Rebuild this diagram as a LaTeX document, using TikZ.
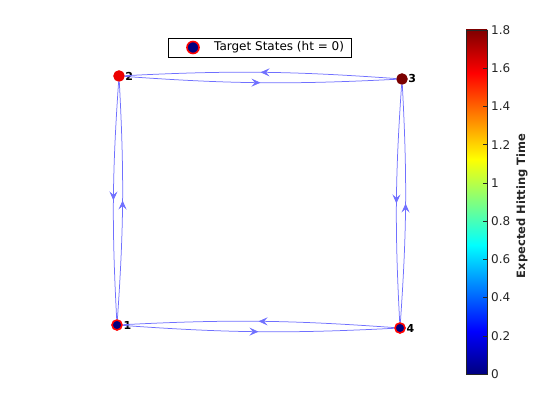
\documentclass[tikz,border=0pt]{standalone}
\usepackage{fontspec}
\setmainfont{DejaVu Sans}
\usepackage{xcolor}
\usetikzlibrary{arrows.meta,decorations.markings}
\definecolor{jetA}{rgb}{0,0,0.5}
\definecolor{jetB}{rgb}{0,0,1}
\definecolor{jetC}{rgb}{0,1,1}
\definecolor{jetD}{rgb}{1,1,0}
\definecolor{jetE}{rgb}{1,0,0}
\definecolor{jetF}{rgb}{0.5,0,0}
\definecolor{edgeblue}{RGB}{112,112,255}
\definecolor{axgray}{RGB}{38,38,38}
\definecolor{nodered}{RGB}{236,0,0}
\definecolor{nodemaroon}{RGB}{122,0,0}
\pgfdeclareverticalshading{jet}{100bp}{color(0bp)=(jetA); color(25bp)=(jetA);
  color(31.25bp)=(jetB); color(43.75bp)=(jetC); color(56.25bp)=(jetD);
  color(68.75bp)=(jetE); color(75bp)=(jetF); color(100bp)=(jetF)}

\tikzset{
  state/.style={circle,inner sep=0pt,minimum size=10.5pt,line width=1pt},
  target/.style={state,draw=red,fill=jetA,line width=1.6pt,minimum size=10pt},
  edge/.style={edgeblue,line width=0.75pt,postaction={decorate},
    decoration={markings,mark=at position 0.5 with {\arrow{Stealth[length=9pt,width=8pt,inset=3.5pt]}}}},
  lbl/.style={font=\bfseries\fontsize{11}{12}\selectfont,inner sep=0.5pt},
  ticklbl/.style={font=\fontsize{12}{14}\selectfont,text=axgray,anchor=west,inner sep=0pt}
}

\begin{document}
\begin{tikzpicture}[x=1pt,y=1pt]
  \useasboundingbox (0,0) rectangle (560,420);
  % states
  \node[target] (n1) at (117,95) {};
  \node[state,draw=nodered,fill=nodered] (n2) at (119,344) {};
  \node[state,draw=nodemaroon,fill=nodemaroon] (n3) at (402,341) {};
  \node[target] (n4) at (400,92) {};
  \node[lbl,right] at (n1.east) {1};
  \node[lbl,right] at (n2.east) {2};
  \node[lbl,right] at (n3.east) {3};
  \node[lbl,right] at (n4.east) {4};
  % transitions
  \draw[edge] (n2) to[bend right=3.5] (n3);
  \draw[edge] (n3) to[bend right=3.5] (n2);
  \draw[edge] (n1) to[bend right=3.5] (n2);
  \draw[edge] (n2) to[bend right=3.5] (n1);
  \draw[edge] (n3) to[bend right=3.5] (n4);
  \draw[edge] (n4) to[bend right=3.5] (n3);
  \draw[edge] (n1) to[bend right=3.5] (n4);
  \draw[edge] (n4) to[bend right=3.5] (n1);
  % legend
  \node[draw,line width=0.6pt,minimum width=183,minimum height=19,inner sep=0pt] (legend) at (259.5,372.5) {};
  \node[target,minimum size=12pt] (legmark) at (193,372.5) {};
  \node[anchor=west,inner sep=0pt,font=\fontsize{12}{14}\selectfont] (legtext) at (214,372.5) {Target States (ht = 0)};
  % colorbar
  \shade[shading=jet] (466,46) rectangle (487,390);
  \draw[axgray,line width=0.6pt] (466,46) rectangle (487,390);
  \foreach \v in {0,0.2,0.4,0.6,0.8,1,1.2,1.4,1.6,1.8}{
    \pgfmathsetmacro{\yy}{46+\v/1.8*344}
    \draw[axgray,line width=0.5pt] (483,\yy) -- (487,\yy);
    \node[ticklbl] at (491,\yy) {\v};
  }
  \node[rotate=90,font=\bfseries\fontsize{11.5}{13}\selectfont,text=axgray] (cblabel) at (522,214) {Expected Hitting Time};
\end{tikzpicture}
\end{document}
